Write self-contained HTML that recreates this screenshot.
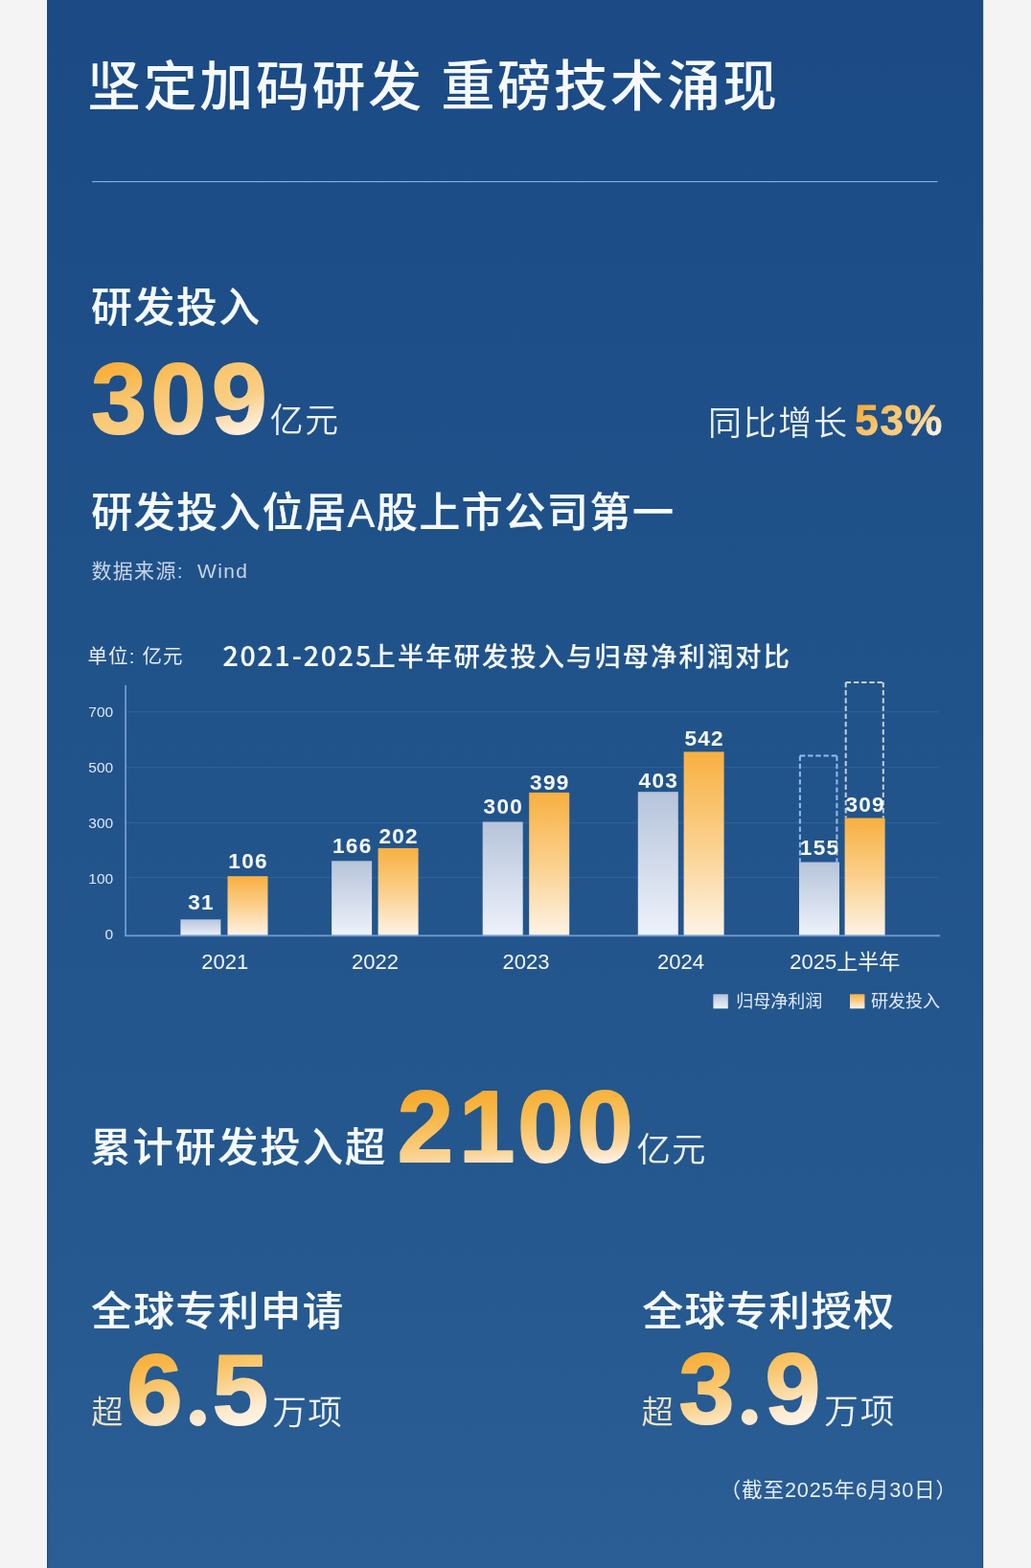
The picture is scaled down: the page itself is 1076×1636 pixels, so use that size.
<!DOCTYPE html>
<html><head><meta charset="utf-8"><title>坚定加码研发 重磅技术涌现</title>
<style>html,body{margin:0;padding:0;width:1076px;height:1636px;overflow:hidden;background:#f4f4f4}</style>
</head><body>
<svg width="1076" height="1636" viewBox="0 0 1076 1636" style="position:absolute;left:0;top:0">
<defs>
<linearGradient id="gbg" x1="0" y1="0" x2="0" y2="1">
<stop offset="0" stop-color="#1b4a84"/>
<stop offset="0.385" stop-color="#20528a"/>
<stop offset="0.78" stop-color="#25588e"/>
<stop offset="1" stop-color="#2a5e94"/>
</linearGradient>
<linearGradient id="gnum" x1="0" y1="0" x2="1" y2="1">
<stop offset="0" stop-color="#f6a328"/>
<stop offset="0.45" stop-color="#f9cf88"/>
<stop offset="1" stop-color="#fdf6ea"/>
</linearGradient>
<linearGradient id="ggray" x1="0" y1="0" x2="0" y2="1">
<stop offset="0" stop-color="#b6c4da"/>
<stop offset="1" stop-color="#eef2fb"/>
</linearGradient>
<linearGradient id="gor" x1="0" y1="0" x2="0" y2="1">
<stop offset="0" stop-color="#f8b040"/>
<stop offset="0.5" stop-color="#fbd08c"/>
<stop offset="1" stop-color="#fdf3e6"/>
</linearGradient>
<linearGradient id="g_n1" gradientUnits="userSpaceOnUse" x1="98.4" y1="378.4" x2="139.3" y2="499.0"><stop offset="0" stop-color="#f6aa30"/><stop offset="0.2" stop-color="#f8b94f"/><stop offset="0.38" stop-color="#f9c66e"/><stop offset="0.66" stop-color="#f9cf86"/><stop offset="0.82" stop-color="#fce3bf"/><stop offset="1" stop-color="#fef7f0"/></linearGradient>
<linearGradient id="g_n2" gradientUnits="userSpaceOnUse" x1="895.2" y1="423.2" x2="940.1" y2="484.4"><stop offset="0" stop-color="#f6aa30"/><stop offset="0.2" stop-color="#f8b94f"/><stop offset="0.38" stop-color="#f9c66e"/><stop offset="0.66" stop-color="#f9cf86"/><stop offset="0.82" stop-color="#fce3bf"/><stop offset="1" stop-color="#fef7f0"/></linearGradient>
<linearGradient id="g_n3" gradientUnits="userSpaceOnUse" x1="418.9" y1="1138.6" x2="427.9" y2="1234.5"><stop offset="0" stop-color="#f6a82c"/><stop offset="0.3" stop-color="#f7b746"/><stop offset="0.55" stop-color="#f9c66c"/><stop offset="0.75" stop-color="#fbd597"/><stop offset="0.9" stop-color="#fde8cc"/><stop offset="1" stop-color="#fef6ee"/></linearGradient>
<linearGradient id="g_n4" gradientUnits="userSpaceOnUse" x1="136.5" y1="1412.5" x2="164.7" y2="1516.3"><stop offset="0" stop-color="#f6aa30"/><stop offset="0.2" stop-color="#f8b94f"/><stop offset="0.4" stop-color="#f9c870"/><stop offset="0.6" stop-color="#fbd9a0"/><stop offset="0.8" stop-color="#fdebd2"/><stop offset="1" stop-color="#fef7f0"/></linearGradient>
<linearGradient id="g_n5" gradientUnits="userSpaceOnUse" x1="711.4" y1="1412.0" x2="739.0" y2="1516.4"><stop offset="0" stop-color="#f6aa30"/><stop offset="0.2" stop-color="#f8b94f"/><stop offset="0.4" stop-color="#f9c870"/><stop offset="0.6" stop-color="#fbd9a0"/><stop offset="0.8" stop-color="#fdebd2"/><stop offset="1" stop-color="#fef7f0"/></linearGradient>
</defs>
<rect x="0" y="0" width="1076" height="1636" fill="#f4f4f4"/>
<rect x="49" y="0" width="977" height="1636" fill="url(#gbg)"/>
<rect x="49" y="0" width="1.2" height="1636" fill="#274a72"/>
<rect x="1025" y="0" width="1.2" height="1636" fill="#274a72"/>
<rect x="96.2" y="189" width="882.3" height="1.1" fill="#8ab0e4"/>
<text x="91.1" y="109.6" font-family="'Noto Sans CJK SC',sans-serif" font-weight="500" font-size="55.89" letter-spacing="2.74" fill="#f6faff" xml:space="preserve">坚定加码研发</text>
<text x="460.2" y="110.4" font-family="'Noto Sans CJK SC',sans-serif" font-weight="500" font-size="56.29" letter-spacing="2.58" fill="#f6faff" xml:space="preserve">重磅技术涌现</text>
<text x="94.9" y="336.0" font-family="'Noto Sans CJK SC',sans-serif" font-weight="500" font-size="42.85" letter-spacing="1.65" fill="#f6faff" stroke="#f6faff" stroke-width="0.21" xml:space="preserve">研发投入</text>
<text x="281.8" y="451.1" font-family="'Noto Sans CJK SC',sans-serif" font-weight="350" font-size="34.80" letter-spacing="1.74" fill="#eef3fa" xml:space="preserve">亿元</text>
<text x="738.9" y="453.5" font-family="'Noto Sans CJK SC',sans-serif" font-weight="350" font-size="34.99" letter-spacing="1.73" fill="#eef3fa" xml:space="preserve">同比增长</text>
<text x="95.2" y="549.8" font-family="'Liberation Sans','Noto Sans CJK SC',sans-serif" font-weight="500" font-size="43.09" letter-spacing="1.47" fill="#f6faff" stroke="#f6faff" stroke-width="0.22" xml:space="preserve">研发投入位居A股上市公司第一</text>
<text x="95.5" y="603.0" font-family="'Liberation Sans','Noto Sans CJK SC',sans-serif" font-weight="400" font-size="21.01" letter-spacing="1.30" fill="#c9d5e6" xml:space="preserve">数据来源:  Wind</text>
<text x="91.4" y="691.7" font-family="'Liberation Sans','Noto Sans CJK SC',sans-serif" font-weight="400" font-size="20.48" letter-spacing="1.19" fill="#e6edf7" xml:space="preserve">单位: 亿元</text>
<text x="232.4" y="694.7" font-family="'Noto Sans CJK SC',sans-serif" font-weight="500" font-size="28.51" letter-spacing="1.83" fill="#f6faff" stroke="#f6faff" stroke-width="0.14" xml:space="preserve">2021-2025</text>
<text x="385.6" y="694.6" font-family="'Noto Sans CJK SC',sans-serif" font-weight="500" font-size="27.11" letter-spacing="2.25" fill="#f6faff" stroke="#f6faff" stroke-width="0.14" xml:space="preserve">上半年研发投入与归母净利润对比</text>
<text x="94.3" y="1212.0" font-family="'Noto Sans CJK SC',sans-serif" font-weight="500" font-size="42.22" letter-spacing="2.07" fill="#f6faff" stroke="#f6faff" stroke-width="0.21" xml:space="preserve">累计研发投入超</text>
<text x="664.6" y="1212.2" font-family="'Noto Sans CJK SC',sans-serif" font-weight="350" font-size="35.44" letter-spacing="1.10" fill="#eef3fa" xml:space="preserve">亿元</text>
<text x="95.3" y="1383.4" font-family="'Noto Sans CJK SC',sans-serif" font-weight="500" font-size="42.51" letter-spacing="1.61" fill="#f6faff" stroke="#f6faff" stroke-width="0.21" xml:space="preserve">全球专利申请</text>
<text x="95.2" y="1484.6" font-family="'Noto Sans CJK SC',sans-serif" font-weight="350" font-size="33.12" letter-spacing="0.00" fill="#efe2c6" xml:space="preserve">超</text>
<text x="284.3" y="1485.6" font-family="'Noto Sans CJK SC',sans-serif" font-weight="350" font-size="35.67" letter-spacing="1.21" fill="#eef3fa" xml:space="preserve">万项</text>
<text x="670.4" y="1383.4" font-family="'Noto Sans CJK SC',sans-serif" font-weight="500" font-size="42.48" letter-spacing="1.57" fill="#f6faff" stroke="#f6faff" stroke-width="0.21" xml:space="preserve">全球专利授权</text>
<text x="669.4" y="1484.6" font-family="'Noto Sans CJK SC',sans-serif" font-weight="350" font-size="33.17" letter-spacing="0.00" fill="#efe2c6" xml:space="preserve">超</text>
<text x="860.3" y="1485.3" font-family="'Noto Sans CJK SC',sans-serif" font-weight="350" font-size="35.62" letter-spacing="1.82" fill="#eef3fa" xml:space="preserve">万项</text>
<text x="751.5" y="1562.4" font-family="'Liberation Sans','Noto Sans CJK SC',sans-serif" font-weight="400" font-size="21.67" letter-spacing="0.83" fill="#e6edf7" xml:space="preserve">（截至2025年6月30日）</text>
<text font-family="'Liberation Sans','Noto Sans CJK SC',sans-serif" font-weight="700" font-size="103.62" fill="url(#g_n1)" stroke="url(#g_n1)" stroke-width="2.0" stroke-linejoin="round"><tspan x="95.2" y="451.5">3</tspan><tspan x="157.6" y="451.5">0</tspan><tspan x="221.1" y="451.5">9</tspan></text>
<text font-family="'Liberation Sans','Noto Sans CJK SC',sans-serif" font-weight="700" font-size="43.83" fill="url(#g_n2)" stroke="url(#g_n2)" stroke-width="0.8" stroke-linejoin="round"><tspan x="892.3" y="454.2">5</tspan><tspan x="918.5" y="454.2">3</tspan><tspan x="944.3" y="454.2">%</tspan></text>
<text font-family="'Liberation Sans','Noto Sans CJK SC',sans-serif" font-weight="700" font-size="104.88" fill="url(#g_n3)" stroke="url(#g_n3)" stroke-width="2.0" stroke-linejoin="round"><tspan x="414.8" y="1212.2">2</tspan><tspan x="479.1" y="1212.2">1</tspan><tspan x="540.2" y="1212.2">0</tspan><tspan x="602.3" y="1212.2">0</tspan></text>
<text font-family="'Liberation Sans','Noto Sans CJK SC',sans-serif" font-weight="700" font-size="104.61" fill="url(#g_n4)" stroke="url(#g_n4)" stroke-width="2.0" stroke-linejoin="round"><tspan x="132.3" y="1485.6">6</tspan><tspan x="194.7" y="1485.5" font-family="'Liberation Serif',serif" font-size="93.0">.</tspan><tspan x="221.8" y="1485.6">5</tspan></text>
<text font-family="'Liberation Sans','Noto Sans CJK SC',sans-serif" font-weight="700" font-size="103.87" fill="url(#g_n5)" stroke="url(#g_n5)" stroke-width="2.0" stroke-linejoin="round"><tspan x="708.4" y="1484.7">3</tspan><tspan x="770.7" y="1484.7" font-family="'Liberation Serif',serif" font-size="91.6">.</tspan><tspan x="798.6" y="1484.7">9</tspan></text>
<rect x="132" y="742.2" width="848" height="1.2" fill="#3a6aa6" opacity="0.55"/>
<rect x="132" y="800.0" width="848" height="1.2" fill="#3a6aa6" opacity="0.55"/>
<rect x="132" y="857.9" width="848" height="1.2" fill="#3a6aa6" opacity="0.55"/>
<rect x="132" y="914.9" width="848" height="1.2" fill="#3a6aa6" opacity="0.55"/>
<text x="118.2" y="748.1" font-family="'Liberation Sans','Noto Sans CJK SC',sans-serif" font-size="15.5" fill="#dbe6f5" text-anchor="end">700</text>
<text x="118.2" y="806.0" font-family="'Liberation Sans','Noto Sans CJK SC',sans-serif" font-size="15.5" fill="#dbe6f5" text-anchor="end">500</text>
<text x="118.2" y="864.2" font-family="'Liberation Sans','Noto Sans CJK SC',sans-serif" font-size="15.5" fill="#dbe6f5" text-anchor="end">300</text>
<text x="118.2" y="921.8" font-family="'Liberation Sans','Noto Sans CJK SC',sans-serif" font-size="15.5" fill="#dbe6f5" text-anchor="end">100</text>
<text x="118.2" y="980.4" font-family="'Liberation Sans','Noto Sans CJK SC',sans-serif" font-size="15.5" fill="#dbe6f5" text-anchor="end">0</text>
<path d="M834.9 788.6 H873.4 M834.9 788.6 V899.5 M873.4 788.6 V899.5" fill="none" stroke="#94bbec" stroke-width="2" stroke-dasharray="5.4 2.8"/>
<path d="M882.7 711.9 H921.8 M882.7 711.9 V853.5 M921.8 711.9 V853.5" fill="none" stroke="#c8cfd2" stroke-width="2" stroke-dasharray="5.4 2.8"/>
<rect x="188.4" y="959.3" width="42.0" height="17.0" fill="url(#ggray)"/>
<rect x="237.5" y="914.2" width="42.0" height="62.1" fill="url(#gor)"/>
<text x="210.1" y="949.0" font-family="'Liberation Sans','Noto Sans CJK SC',sans-serif" font-weight="700" font-size="22.6" letter-spacing="1.3" fill="#f6faff" text-anchor="middle">31</text>
<text x="259.1" y="905.6" font-family="'Liberation Sans','Noto Sans CJK SC',sans-serif" font-weight="700" font-size="22.6" letter-spacing="1.3" fill="#f6faff" text-anchor="middle">106</text>
<text x="234.8" y="1010.8" font-family="'Liberation Sans','Noto Sans CJK SC',sans-serif" font-size="22" fill="#f2f6fb" text-anchor="middle">2021</text>
<rect x="346.1" y="898.3" width="42.0" height="78.0" fill="url(#ggray)"/>
<rect x="394.6" y="884.9" width="42.0" height="91.4" fill="url(#gor)"/>
<text x="367.8" y="890.0" font-family="'Liberation Sans','Noto Sans CJK SC',sans-serif" font-weight="700" font-size="22.6" letter-spacing="1.3" fill="#f6faff" text-anchor="middle">166</text>
<text x="416.2" y="880.4" font-family="'Liberation Sans','Noto Sans CJK SC',sans-serif" font-weight="700" font-size="22.6" letter-spacing="1.3" fill="#f6faff" text-anchor="middle">202</text>
<text x="391.5" y="1010.8" font-family="'Liberation Sans','Noto Sans CJK SC',sans-serif" font-size="22" fill="#f2f6fb" text-anchor="middle">2022</text>
<rect x="503.7" y="857.5" width="42.0" height="118.8" fill="url(#ggray)"/>
<rect x="552.2" y="826.9" width="42.0" height="149.4" fill="url(#gor)"/>
<text x="525.4" y="849.2" font-family="'Liberation Sans','Noto Sans CJK SC',sans-serif" font-weight="700" font-size="22.6" letter-spacing="1.3" fill="#f6faff" text-anchor="middle">300</text>
<text x="573.9" y="824.0" font-family="'Liberation Sans','Noto Sans CJK SC',sans-serif" font-weight="700" font-size="22.6" letter-spacing="1.3" fill="#f6faff" text-anchor="middle">399</text>
<text x="549.0" y="1010.8" font-family="'Liberation Sans','Noto Sans CJK SC',sans-serif" font-size="22" fill="#f2f6fb" text-anchor="middle">2023</text>
<rect x="665.8" y="826.2" width="42.0" height="150.1" fill="url(#ggray)"/>
<rect x="713.6" y="784.4" width="42.0" height="191.9" fill="url(#gor)"/>
<text x="687.4" y="821.5" font-family="'Liberation Sans','Noto Sans CJK SC',sans-serif" font-weight="700" font-size="22.6" letter-spacing="1.3" fill="#f6faff" text-anchor="middle">403</text>
<text x="735.2" y="777.7" font-family="'Liberation Sans','Noto Sans CJK SC',sans-serif" font-weight="700" font-size="22.6" letter-spacing="1.3" fill="#f6faff" text-anchor="middle">542</text>
<text x="710.6" y="1010.8" font-family="'Liberation Sans','Noto Sans CJK SC',sans-serif" font-size="22" fill="#f2f6fb" text-anchor="middle">2024</text>
<rect x="834.0" y="899.5" width="42.0" height="76.8" fill="url(#ggray)"/>
<rect x="881.6" y="853.5" width="42.0" height="122.8" fill="url(#gor)"/>
<text x="855.6" y="892.4" font-family="'Liberation Sans','Noto Sans CJK SC',sans-serif" font-weight="700" font-size="22.6" letter-spacing="1.3" fill="#f6faff" text-anchor="middle">155</text>
<text x="903.2" y="847.0" font-family="'Liberation Sans','Noto Sans CJK SC',sans-serif" font-weight="700" font-size="22.6" letter-spacing="1.3" fill="#f6faff" text-anchor="middle">309</text>
<text x="881.8" y="1010.8" font-family="'Liberation Sans','Noto Sans CJK SC',sans-serif" font-size="22" fill="#f2f6fb" text-anchor="middle">2025上半年</text>
<rect x="130.2" y="715" width="1.8" height="262" fill="#6f9ad2"/>
<rect x="130.2" y="975.4" width="851" height="1.8" fill="#6f9ad2"/>
<rect x="744.4" y="1037.3" width="15.4" height="15" fill="url(#ggray)"/>
<text x="768.3" y="1051" font-family="'Noto Sans CJK SC',sans-serif" font-size="18" fill="#dfe8f4">归母净利润</text>
<rect x="887" y="1037.3" width="15.4" height="15" fill="url(#gor)"/>
<text x="909" y="1051" font-family="'Noto Sans CJK SC',sans-serif" font-size="18" fill="#dfe8f4">研发投入</text>
</svg>
</body></html>
